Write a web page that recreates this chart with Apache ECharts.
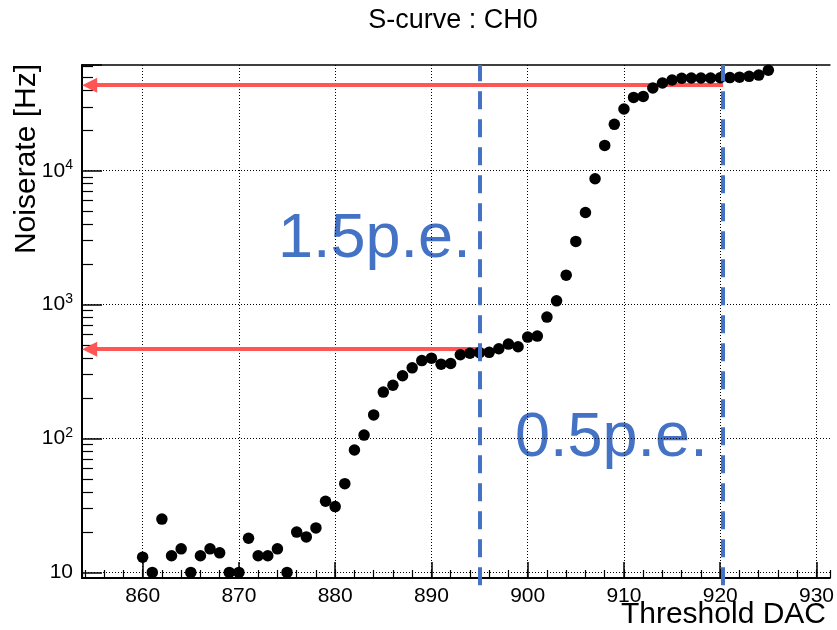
<!DOCTYPE html>
<html><head><meta charset="utf-8">
<script src="https://cdn.jsdelivr.net/npm/echarts@6/dist/echarts.min.js"></script>
<style>html,body{margin:0;padding:0;background:#fff}#c{width:837px;height:630px}</style>
</head><body><div id="c"></div>
<script>
// ---- data ----
const thresholdDAC = [860,861,862,863,864,865,866,867,868,869,870,871,872,873,874,875,876,877,878,879,
  880,881,882,883,884,885,886,887,888,889,890,891,892,893,894,895,896,897,898,899,
  900,901,902,903,904,905,906,907,908,909,910,911,912,913,914,915,916,917,918,919,
  920,921,922,923,924,925];
const noiseRate = [13,10,25,13.3,15,10,13.3,15,14,10,10,18,13.3,13.3,15,10,20,18.4,21.5,34,
  31,46,82,106,150,222,250,294,337,382,398,359,363,422,433,438,440,468,507,484,
  572,582,807,1067,1660,2965,4875,8710,15450,22200,28900,35300,35900,41500,45200,47600,49000,49300,49300,49300,
  49500,49600,50000,50700,51800,56300];
const xRange = [853.7, 931.4];
const yRange = [9.08, 61600];
const arrowLevels = [43500, 465];     // noise rate levels of the red arrows
const arrowFromDAC = [920.3, 895];    // where each arrow starts
const arrowTipDAC = 854.5;            // arrow head centre
const peThresholds = [895, 920.3];    // blue dashed lines
const peLineY = [8.0, 61600];         // vertical extent of the dashed lines
const peLabels = ['1.5p.e.', '0.5p.e.'];
const titleText = 'S-curve : CH0';
const xTitle = 'Threshold DAC';
const yTitle = 'Noiserate [Hz]';

const FONT = '"Liberation Sans", Arial, Helvetica, sans-serif';
const BLUE = '#4472C4';
const RED = '#ff5555';
const chart = echarts.init(document.getElementById('c'), null, {renderer: 'canvas'});

function yLabel(v) {
  const e = Math.round(Math.log10(v));
  if (Math.abs(Math.pow(10, e) - v) > 1e-6 * v) return '';
  if (e === 1) return '{b|10}';
  return '{b|10}{s|' + e + '}';
}

const option = {
  animation: false,
  backgroundColor: '#fff',
  grid: {left: 82, right: 1, top: 65, bottom: 52},
  xAxis: [
    {
      type: 'value', min: xRange[0], max: xRange[1], splitNumber: 8, position: 'bottom',
      axisLine: {show: true, onZero: false, lineStyle: {color: '#000', width: 2}},
      axisTick: {show: true, inside: true, length: 16, lineStyle: {color: '#000', width: 1.5}},
      axisLabel: {show: true, showMinLabel: false, showMaxLabel: false, fontSize: 21, margin: 8,
        color: '#000', fontFamily: FONT},
      splitLine: {show: true, showMinLine: false, showMaxLine: false,
        lineStyle: {color: '#000', width: 1, type: [1, 2]}}
    },
    {
      type: 'value', min: xRange[0], max: xRange[1], splitNumber: 39, position: 'bottom',
      axisLine: {show: false, onZero: false},
      axisTick: {show: true, inside: true, length: 8, lineStyle: {color: '#000', width: 1.2}},
      axisLabel: {show: false}, splitLine: {show: false}
    },
    {
      type: 'value', min: xRange[0], max: xRange[1], position: 'top',
      axisLine: {show: true, onZero: false, lineStyle: {color: '#000', width: 1.5}},
      axisTick: {show: false}, axisLabel: {show: false}, splitLine: {show: false}
    }
  ],
  yAxis: [{
    type: 'log', logBase: 10, min: yRange[0], max: yRange[1],
    axisLine: {show: true, lineStyle: {color: '#000', width: 2}},
    axisTick: {show: true, inside: true, length: 20, lineStyle: {color: '#000', width: 1.5}},
    minorTick: {show: true, splitNumber: 9, length: 11, lineStyle: {color: '#000', width: 1.2}},
    axisLabel: {show: true, showMinLabel: false, showMaxLabel: false, margin: 9, color: '#000',
      formatter: yLabel,
      rich: {
        b: {fontSize: 21, fontFamily: FONT, color: '#000'},
        s: {fontSize: 14, fontFamily: FONT, color: '#000', padding: [0, 0, 11, 0]}
      }},
    splitLine: {show: true, showMinLine: false, showMaxLine: false,
      lineStyle: {color: '#000', width: 1, type: [1, 2]}}
  }],
  series: [
    {
      type: 'lines', coordinateSystem: 'cartesian2d', z: 1, silent: true, clip: false,
      symbol: ['none', 'triangle'], symbolSize: [14, 15],
      lineStyle: {color: RED, width: 4, type: 'solid', opacity: 1},
      data: arrowLevels.map((lv, i) => ({coords: [[arrowFromDAC[i], lv], [arrowTipDAC, lv]]}))
    },
    {
      type: 'scatter', z: 2, silent: true,
      symbol: 'circle', symbolSize: 11.5,
      itemStyle: {color: '#000', opacity: 1},
      data: thresholdDAC.map((x, i) => [x, noiseRate[i]])
    },
    {
      type: 'lines', coordinateSystem: 'cartesian2d', z: 3, silent: true, clip: false,
      symbol: ['none', 'none'],
      lineStyle: {color: BLUE, width: 4, type: [18, 10], opacity: 1},
      data: peThresholds.map(x => ({coords: [[x, peLineY[0]], [x, peLineY[1]]]}))
    }
  ],
  graphic: [
    {type: 'text', x: 453, y: 21, style: {text: titleText, font: '27px ' + FONT, fill: '#000',
      align: 'center', verticalAlign: 'middle'}},
    {type: 'text', x: 826, y: 615, style: {text: xTitle, font: '30px ' + FONT, fill: '#000',
      align: 'right', verticalAlign: 'middle'}},
    {type: 'text', x: 27, y: 64, rotation: Math.PI / 2, style: {text: yTitle, font: '30px ' + FONT,
      fill: '#000', align: 'right', verticalAlign: 'middle'}},
    {type: 'text', x: 278, y: 240, style: {text: peLabels[0], font: '63px ' + FONT, fill: BLUE,
      align: 'left', verticalAlign: 'middle'}},
    {type: 'text', x: 515, y: 439, style: {text: peLabels[1], font: '63px ' + FONT, fill: BLUE,
      align: 'left', verticalAlign: 'middle'}}
  ]
};
chart.setOption(option);
</script>
</body></html>
